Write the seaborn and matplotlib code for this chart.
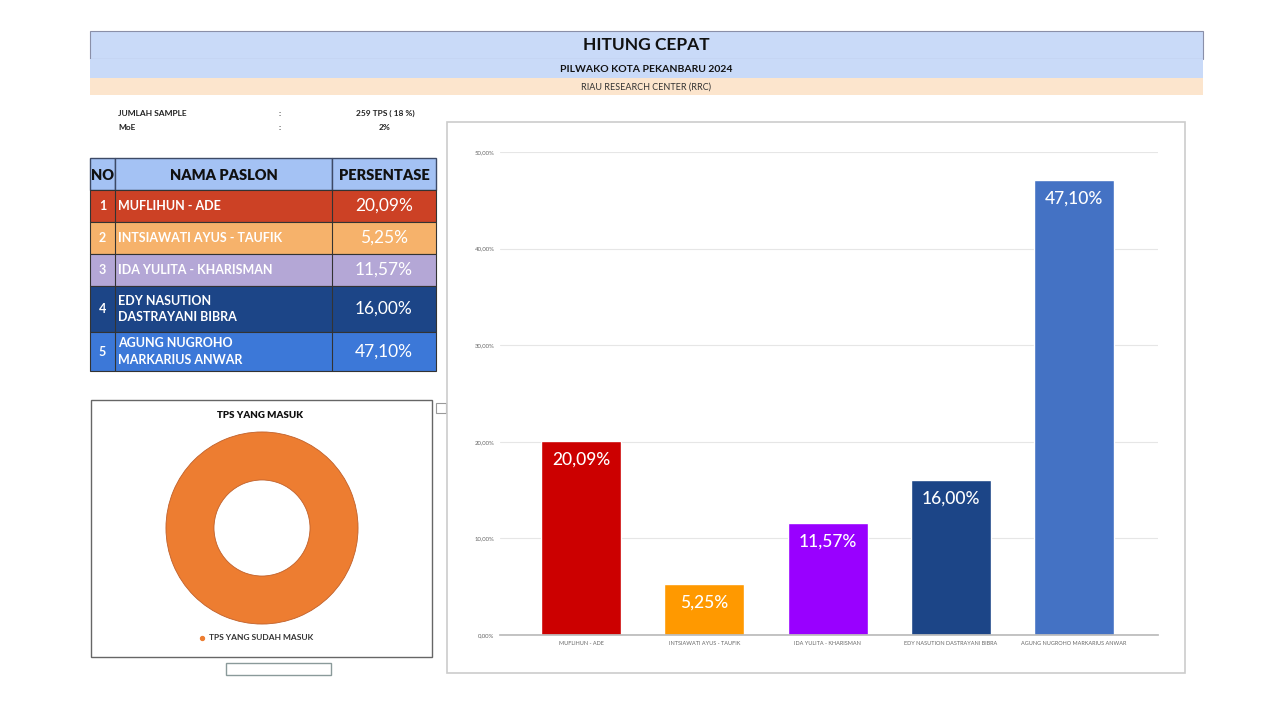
import numpy as np
import matplotlib
matplotlib.use("Agg")
import matplotlib.pyplot as plt
import seaborn as sns
from matplotlib.patches import Rectangle

# data
paslon_no = ["1", "2", "3", "4", "5"]
paslon_table = ["MUFLIHUN - ADE", "INTSIAWATI AYUS - TAUFIK", "IDA YULITA - KHARISMAN",
                "EDY NASUTION\nDASTRAYANI BIBRA", "AGUNG NUGROHO\nMARKARIUS ANWAR"]
paslon_axis = ["MUFLIHUN - ADE", "INTSIAWATI AYUS - TAUFIK", "IDA YULITA - KHARISMAN",
               "EDY NASUTION DASTRAYANI BIBRA", "AGUNG NUGROHO MARKARIUS ANWAR"]
persentase = [20.09, 5.25, 11.57, 16.00, 47.10]
table_colors = ["#cc4125", "#f6b26b", "#b4a7d6", "#1c4587", "#3c78d8"]
bar_colors = ["#cc0000", "#ff9900", "#9900ff", "#1c4587", "#4472c4"]
y_ticks = [0, 10, 20, 30, 40, 50]
tps_labels = ["TPS YANG SUDAH MASUK"]
tps_values = [100]


def fmt(v):
    return f"{v:.2f}%".replace(".", ",")


sns.set_theme(style="white")
plt.rcParams["font.family"] = ["Lato", "DejaVu Sans"]

W, H = 1265, 711
fig = plt.figure(figsize=(W / 100, H / 100), dpi=100)
fig.patch.set_facecolor("white")


def px(x0, y0, x1, y1):
    return [x0 / W, 1 - y1 / H, (x1 - x0) / W, (y1 - y0) / H]


bg = fig.add_axes([0, 0, 1, 1])
bg.set_xlim(0, W)
bg.set_ylim(H, 0)
bg.axis("off")

# header bands
bg.add_patch(Rectangle((90, 31), 1113, 28, fc="#c9daf8", ec="#8a8fa8", lw=0.8))
bg.add_patch(Rectangle((90, 59), 1113, 19, fc="#c9daf8", ec="none"))
bg.add_patch(Rectangle((90, 78), 1113, 17, fc="#fce5cd", ec="none"))
bg.text(646, 45, "HITUNG CEPAT", ha="center", va="center", fontsize=12.5, fontweight="bold", color="#111111")
bg.text(646, 69, "PILWAKO KOTA PEKANBARU 2024", ha="center", va="center", fontsize=7.5, fontweight="bold", color="#111111")
bg.text(646, 87, "RIAU RESEARCH CENTER (RRC)", ha="center", va="center", fontsize=6.5, color="#333333")

# sample info
bg.text(118, 113, "JUMLAH SAMPLE", ha="left", va="center", fontsize=6, fontweight="bold", color="#222222")
bg.text(118, 128, "MoE", ha="left", va="center", fontsize=6, fontweight="bold", color="#222222")
bg.text(280, 113, ":", ha="center", va="center", fontsize=6, color="#222222")
bg.text(280, 128, ":", ha="center", va="center", fontsize=6, color="#222222")
bg.text(385, 113, "259 TPS ( 18 %)", ha="center", va="center", fontsize=6, fontweight="bold", color="#222222")
bg.text(385, 128, "2%", ha="center", va="center", fontsize=6, fontweight="bold", color="#222222")

# table
cols = [90, 115, 332, 436]
rows = [158, 190, 222, 254, 286, 332, 371]
for c0, c1, t in zip(cols[:-1], cols[1:], ["NO", "NAMA PASLON", "PERSENTASE"]):
    bg.add_patch(Rectangle((c0, rows[0]), c1 - c0, rows[1] - rows[0], fc="#a4c2f4", ec="#3d4a66", lw=1))
    bg.text((c0 + c1) / 2, (rows[0] + rows[1]) / 2 + 1, t, ha="center", va="center",
            fontsize=10.5, fontweight="heavy", color="#111111")
for i, (no, nm, val, col) in enumerate(zip(paslon_no, paslon_table, persentase, table_colors)):
    y0, y1 = rows[i + 1], rows[i + 2]
    bg.add_patch(Rectangle((cols[0], y0), cols[3] - cols[0], y1 - y0, fc=col, ec="#333333", lw=0.8))
    bg.plot([cols[1], cols[1]], [y0, y1], color="#333333", lw=0.8)
    bg.plot([cols[2], cols[2]], [y0, y1], color="#333333", lw=0.8)
    ym = (y0 + y1) / 2
    bg.text((cols[0] + cols[1]) / 2, ym, no, ha="center", va="center", fontsize=9, fontweight="bold", color="white")
    bg.text(cols[1] + 3, ym, nm, ha="left", va="center", fontsize=9, fontweight="bold", color="white",
            linespacing=1.45)
    bg.text((cols[2] + cols[3]) / 2, ym, fmt(val), ha="center", va="center", fontsize=12.5, color="white")

# donut box
bg.add_patch(Rectangle((91, 400), 341, 257, fc="white", ec="#666666", lw=1))
bg.text(260, 415, "TPS YANG MASUK", ha="center", va="center", fontsize=7, fontweight="heavy", color="#111111")
bg.add_patch(Rectangle((226, 663), 105, 12, fc="white", ec="#8a9a9a", lw=1))
bg.add_patch(Rectangle((436, 403), 10, 10, fc="white", ec="#999999", lw=0.8))

ax_d = fig.add_axes(px(165, 431, 359, 625))
ax_d.pie(tps_values, colors=["#ed7d31"], radius=1, startangle=90,
         wedgeprops=dict(width=0.5, edgecolor="#c0602a", linewidth=0.6))
ax_d.set_xlim(-1.01, 1.01)
ax_d.set_ylim(-1.01, 1.01)
ax_d.set_aspect("equal")
ax_d.axis("off")
bg.scatter([202], [638], s=8, color="#ed7d31")
bg.text(209, 638, tps_labels[0], ha="left", va="center", fontsize=6, fontweight="bold", color="#333333")

# bar chart box
bg.add_patch(Rectangle((447, 122), 738, 551, fc="white", ec="#cccccc", lw=1.2))

ax = fig.add_axes(px(500, 152, 1158, 635))
ax.set_facecolor("none")
sns.barplot(x=paslon_axis, y=persentase, hue=paslon_axis, palette=bar_colors, legend=False,
            width=0.65, ax=ax, saturation=1)
ax.set_ylim(0, 50)
ax.set_xlim(-0.657, 4.68)
ax.set_xlabel("")
ax.set_ylabel("")
ax.set_yticks(y_ticks)
ax.set_yticklabels([fmt(t) for t in y_ticks], fontsize=4.3, color="#666666")
ax.tick_params(axis="x", labelsize=4, colors="#666666", length=0, pad=4)
ax.tick_params(axis="y", length=0, pad=4)
ax.yaxis.grid(True, color="#e6e6e6", lw=0.8)
ax.set_axisbelow(True)
for s in ["top", "right", "left"]:
    ax.spines[s].set_visible(False)
ax.spines["bottom"].set_color("#bbbbbb")
for bar, v in zip(ax.patches, persentase):
    ax.text(bar.get_x() + bar.get_width() / 2, v - 1.1, fmt(v), ha="center", va="top",
            fontsize=12.5, fontweight="medium", color="white")

fig.savefig("out.png", dpi=100)
